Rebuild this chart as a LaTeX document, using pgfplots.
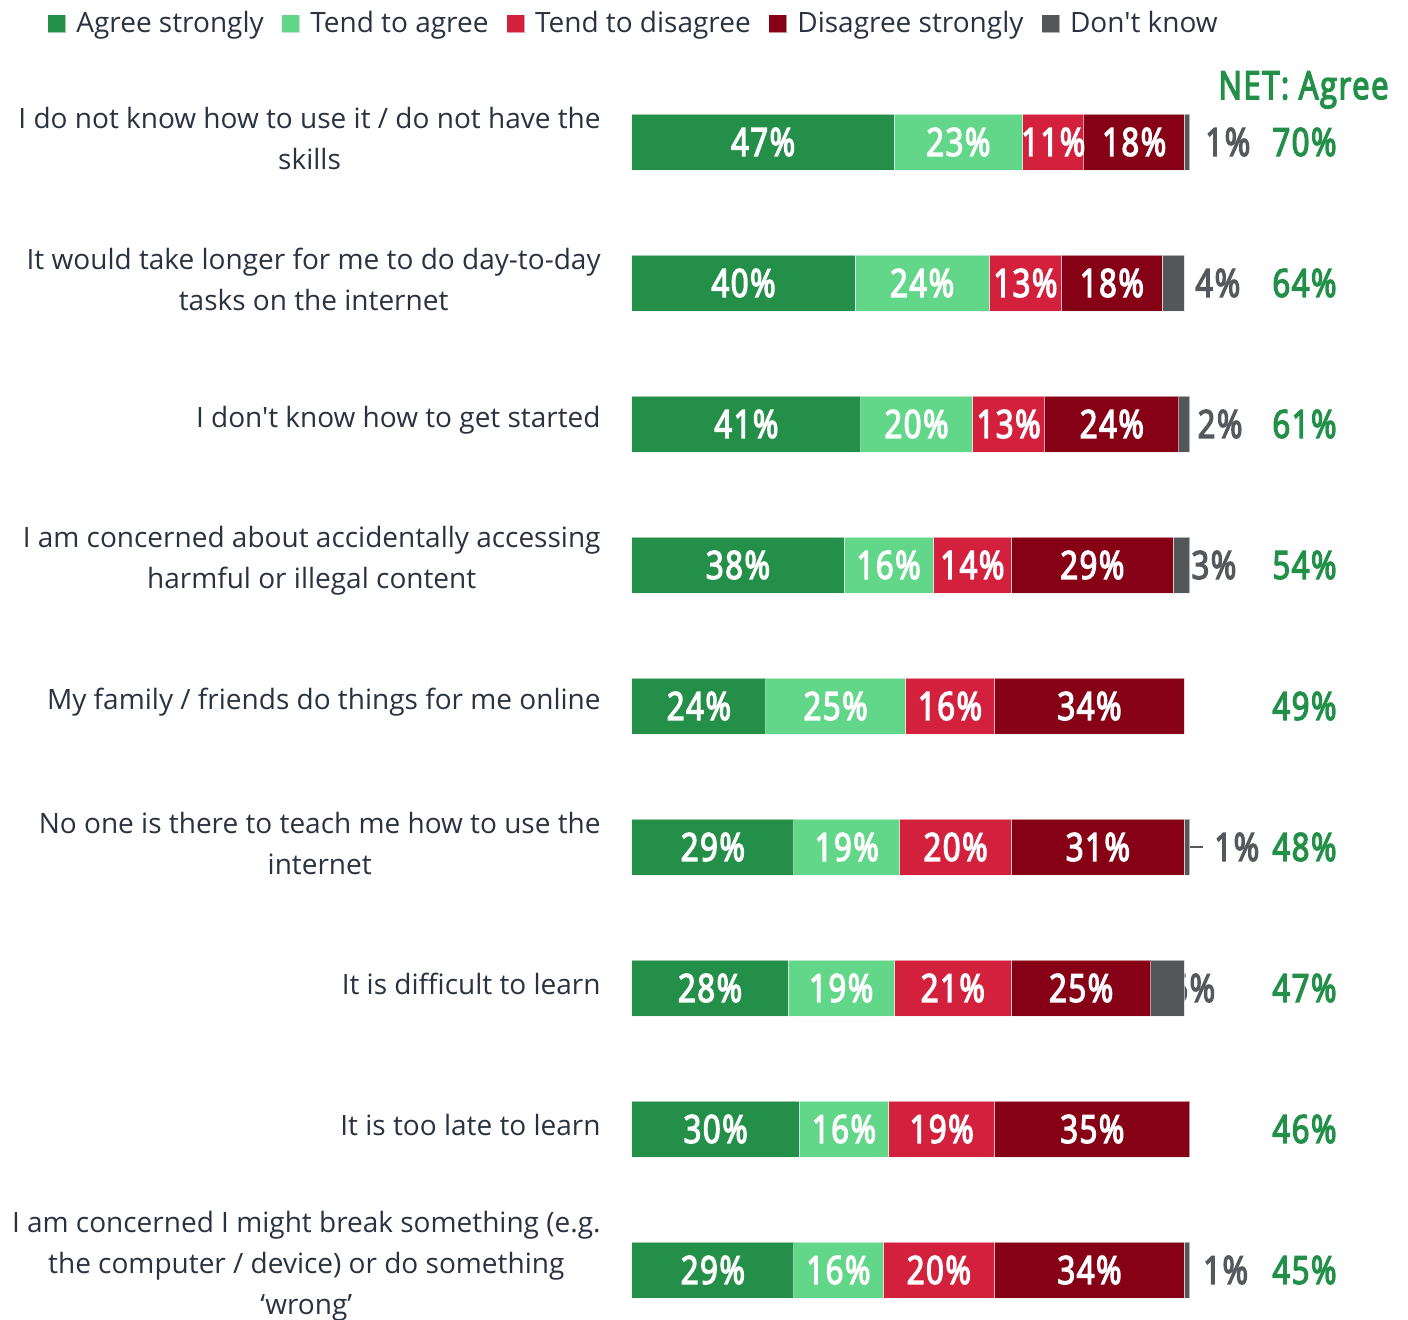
\documentclass[border=0pt]{standalone}
\usepackage{pgfplots}
\pgfplotsset{compat=1.18}
\usepackage{pgfplotstable}
\usepackage{fontspec}
\setmainfont{Open Sans}[Ligatures=TeXOff]
\newfontfamily\numfont[FakeStretch=0.8, FakeBold=3.5, LetterSpace=4]{Open Sans}
\definecolor{cAS}{HTML}{248F48}
\definecolor{cTA}{HTML}{62D689}
\definecolor{cTD}{HTML}{D3203D}
\definecolor{cDS}{HTML}{860016}
\definecolor{cDK}{HTML}{53575A}
\definecolor{cDKt}{HTML}{55595D}
\definecolor{cNet}{HTML}{23904A}
\definecolor{cText}{HTML}{2A3241}

\pgfplotstableread{
y as ta td ds dk
1 47 23 11 18 1
2 40 24 13 18 4
3 41 20 13 24 2
4 38 16 14 29 3
5 24 25 16 34 0
6 29 19 20 31 1
7 28 19 21 25 6
8 30 16 19 35 0
9 29 16 20 34 1
}\data

\pgfplotstableread{
y dk dkx
1 1 102.7
2 4 100.9
3 2 101.3
4 3 100.2
6 1 104.3
7 6 96.4
9 1 102.3
}\dklab

\pgfplotsset{
  base/.style={scale only axis, width=279bp, height=623.925bp,
    xmin=0, xmax=100, ymin=0.5, ymax=9.35, y dir=reverse, clip=false,
    at={(0,0)}, anchor=north west,
    /pgf/number format/assume math mode=true},
}
\newcommand{\numf}{\numfont\fontsize{19.4bp}{20bp}\selectfont}

\begin{document}
\begin{tikzpicture}
% labels lying under the bars (Don't know)
\begin{axis}[base, hide axis]
\addplot[draw=none, nodes near coords={\pgfmathprintnumber{\pgfplotspointmeta}\%},
  point meta=explicit,
  every node near coord/.append style={anchor=west, inner sep=0pt, font=\numf, text=cDKt}]
  table[x=dkx, y=y, meta=dk] {\dklab};
\draw[cDKt, line width=0.75bp] (axis cs:100,6) -- (axis cs:102.3,6);
\end{axis}

% bars
\begin{axis}[base, xbar stacked, bar width=28bp,
  axis line style={draw=none}, major tick length=0pt,
  xtick=\empty, ytick={1,...,9},
  yticklabels={{I do not know how to use it / do not have the\\skills},
    {It would take longer for me to do day-to-day\\tasks on the internet},
    {I don't know how to get started},
    {I am concerned about accidentally accessing\\harmful or illegal content},
    {My family / friends do things for me online},
    {No one is there to teach me how to use the\\internet},
    {It is difficult to learn},
    {It is too late to learn},
    {I am concerned I might break something (e.g.\\the computer / device) or do something\\‘wrong’}},
  yticklabel style={align=center, anchor=east, inner sep=0pt, xshift=-15.5bp, yshift=2bp,
    font=\fontsize{14bp}{20.5bp}\selectfont, text=cText},
  every axis plot/.append style={draw=white, draw opacity=0.55, line width=0.5bp},
  legend columns=5,
  legend image code/.code={\fill[#1] (0bp,-4.5bp) rectangle (9bp,4.5bp);},
  legend style={at={(-1.0484,1.0382)}, anchor=west, draw=none, fill=none,
    inner sep=0pt, column sep=0pt,
    nodes={inner sep=0pt, font=\fontsize{14bp}{16bp}\selectfont, text=cText}},
  legend entries={{\hspace*{5bp}Agree strongly\hspace*{8.8bp}},
    {\hspace*{5bp}Tend to agree\hspace*{8.8bp}},
    {\hspace*{5bp}Tend to disagree\hspace*{8.8bp}},
    {\hspace*{5bp}Disagree strongly\hspace*{8.8bp}},
    {\hspace*{5bp}Don't know}},
]
\addplot[fill=cAS] table[x=as, y=y] {\data};
\addplot[fill=cTA] table[x=ta, y=y] {\data};
\addplot[fill=cTD] table[x=td, y=y] {\data};
\addplot[fill=cDS] table[x=ds, y=y] {\data};
\addplot[fill=cDK] table[x=dk, y=y] {\data};
\end{axis}

% labels on top
\begin{axis}[base, hide axis,
  nodes near coords={\pgfmathprintnumber{\pgfplotspointmeta}\%},
  point meta=explicit,
  every node near coord/.append style={anchor=center, inner sep=0pt, font=\numf, text=white}]
\addplot[draw=none] table[x expr=\thisrow{as}/2, y=y, meta=as] {\data};
\addplot[draw=none] table[x expr=\thisrow{as}+\thisrow{ta}/2, y=y, meta=ta] {\data};
\addplot[draw=none] table[x expr=\thisrow{as}+\thisrow{ta}+\thisrow{td}/2, y=y, meta=td] {\data};
\addplot[draw=none] table[x expr=\thisrow{as}+\thisrow{ta}+\thisrow{td}+\thisrow{ds}/2, y=y, meta=ds] {\data};
\addplot[draw=none, point meta={\thisrow{as}+\thisrow{ta}},
  every node near coord/.append style={anchor=east, text=cNet}]
  table[x expr=126.34, y=y] {\data};
\node[anchor=east, inner sep=0pt, font=\numf, text=cNet] at (axis cs:135.66,0.63) {NET: Agree};
\end{axis}

\pgfresetboundingbox
\path[use as bounding box] (-316bp,35.75bp) rectangle (388bp,-624.25bp);
\end{tikzpicture}
\end{document}
